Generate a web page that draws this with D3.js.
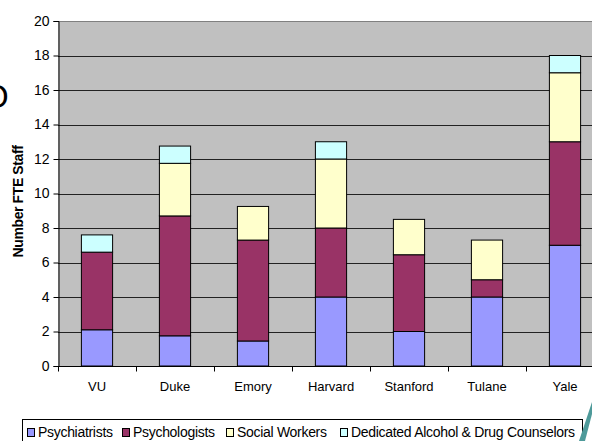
<!DOCTYPE html>
<html>
<head>
<meta charset="utf-8">
<script src="https://cdn.jsdelivr.net/npm/d3@7"></script>
<style>
  body { margin: 0; background: #fff; }
  svg { display: block; font-family: Arial, "Liberation Sans", sans-serif; }
</style>
</head>
<body>
<svg id="chart" width="592" height="441"></svg>
<script>
// data
var schools = ["VU", "Duke", "Emory", "Harvard", "Stanford", "Tulane", "Yale"];
var psychiatrists = [2.1, 1.75, 1.45, 4, 2, 4, 7];
var psychologists = [4.5, 6.95, 5.85, 4, 4.45, 1, 6];
var socialWorkers = [0, 3.05, 1.95, 4, 2.05, 2.3, 4];
var counselors = [1.0, 1.0, 0, 1, 0, 0, 1];
var seriesNames = ["Psychiatrists", "Psychologists", "Social Workers", "Dedicated Alcohol & Drug Counselors"];
var colors = ["#9999FF", "#993366", "#FFFFCC", "#CCFFFF"];
var yTicks = [0, 2, 4, 6, 8, 10, 12, 14, 16, 18, 20];

// plot box (right edge runs past the window, like the reference)
var plotLeft = 58, plotRight = 604, plotTop = 21, plotBottom = 366;

var svg = d3.select("#chart");

// table for the stack
var rows = schools.map(function(s, i) {
  return { school: s, a: psychiatrists[i], b: psychologists[i], c: socialWorkers[i], d: counselors[i] };
});
var stack = d3.stack().keys(["a", "b", "c", "d"])(rows);

var x = d3.scaleBand().domain(schools).range([plotLeft, plotRight])
  .paddingInner(0.6).paddingOuter(0.3);
var y = d3.scaleLinear().domain([0, 20]).range([plotBottom, plotTop]);

// plot area
svg.append("rect")
  .attr("x", plotLeft).attr("y", plotTop)
  .attr("width", plotRight - plotLeft).attr("height", plotBottom - plotTop)
  .attr("fill", "#C0C0C0");

// gridlines
svg.append("g").selectAll("line")
  .data(yTicks.filter(function(d) { return d > 0; }))
  .enter().append("line")
  .attr("x1", plotLeft).attr("x2", plotRight)
  .attr("y1", function(d) { return Math.round(y(d)) + 0.5; })
  .attr("y2", function(d) { return Math.round(y(d)) + 0.5; })
  .attr("stroke", function(d) { return d == 20 ? "#808080" : "#222"; })
  .attr("stroke-width", 1);

// bars
svg.append("g").selectAll("g")
  .data(stack)
  .enter().append("g")
  .attr("fill", function(d, i) { return colors[i]; })
  .selectAll("rect")
  .data(function(d) { return d.filter(function(v) { return v[1] - v[0] > 0; }); })
  .enter().append("rect")
  .attr("x", function(d) { return x(d.data.school); })
  .attr("y", function(d) { return y(d[1]); })
  .attr("width", x.bandwidth())
  .attr("height", function(d) { return y(d[0]) - y(d[1]); })
  .attr("stroke", "#000")
  .attr("stroke-width", 1);

// y axis
var yAxis = svg.append("g")
  .attr("transform", "translate(" + (plotLeft + 0.5) + ",0)")
  .call(d3.axisLeft(y).tickValues(yTicks).tickSize(5).tickPadding(4).tickFormat(d3.format("d")));
yAxis.select(".domain").attr("stroke", "#000");
yAxis.selectAll("text").attr("font-size", 14).attr("font-family", "Arial, 'Liberation Sans', sans-serif").attr("fill", "#000");

// x axis
var xAxis = svg.append("g")
  .attr("transform", "translate(0," + (plotBottom + 0.5) + ")");
xAxis.append("line")
  .attr("x1", plotLeft).attr("x2", plotRight).attr("stroke", "#000");
xAxis.selectAll(".tk")
  .data(d3.range(schools.length + 1))
  .enter().append("line")
  .attr("class", "tk")
  .attr("x1", function(i) { return Math.round(plotLeft + i * x.step()) + 0.5; })
  .attr("x2", function(i) { return Math.round(plotLeft + i * x.step()) + 0.5; })
  .attr("y1", 0).attr("y2", 5)
  .attr("stroke", "#000");
xAxis.selectAll("text")
  .data(schools)
  .enter().append("text")
  .attr("x", function(d) { return x(d) + x.bandwidth() / 2; })
  .attr("y", 24)
  .attr("text-anchor", "middle")
  .attr("font-size", 13)
  .text(function(d) { return d; });

// y axis title
svg.append("text")
  .attr("transform", "translate(23," + ((plotTop + plotBottom) / 2 + 8) + ") rotate(-90)")
  .attr("text-anchor", "middle")
  .attr("font-size", 14)
  .attr("font-weight", "bold")
  .attr("letter-spacing", -0.4)
  .text("Number FTE Staff");

// legend
var legendX = [27, 122, 226, 340];
svg.append("rect")
  .attr("x", 22.5).attr("y", 419.5)
  .attr("width", 560).attr("height", 30)
  .attr("fill", "#fff").attr("stroke", "#000");
var leg = svg.append("g").selectAll("g")
  .data(seriesNames)
  .enter().append("g")
  .attr("transform", function(d, i) { return "translate(" + legendX[i] + ",0)"; });
leg.append("rect")
  .attr("x", 0.5).attr("y", 428.5)
  .attr("width", 7).attr("height", 8)
  .attr("fill", function(d, i) { return colors[i]; })
  .attr("stroke", "#000");
leg.append("text")
  .attr("x", 11).attr("y", 437)
  .attr("font-size", 14)
  .attr("letter-spacing", -0.3)
  .text(function(d) { return d; });

// bits of the slide around the chart
svg.append("text")
  .attr("x", -17).attr("y", 108)
  .attr("font-size", 33)
  .text("O");
svg.append("polygon")
  .attr("points", "579,441 592,402 592,414 585,441")
  .attr("fill", "#4E9A9A");
</script>
</body>
</html>
